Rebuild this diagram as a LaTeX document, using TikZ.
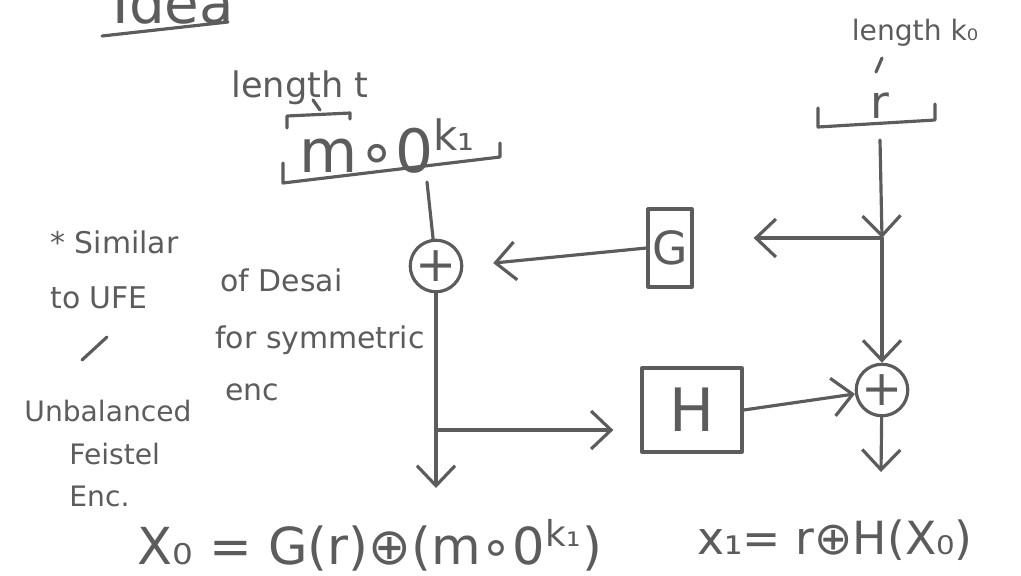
\documentclass[tikz,border=0pt]{standalone}
\usepackage{fontspec}
\setmainfont{DejaVu Sans}
\usetikzlibrary{arrows.meta}
\definecolor{pencil}{RGB}{92,92,92}
\begin{document}
\begin{tikzpicture}[x=0.01cm,y=-0.01cm,
  every node/.style={text=pencil,font=\fontsize{8.5}{10}\selectfont},
  ink/.style={draw=pencil,line width=0.9pt,line cap=round,line join=round},
  tip/.style={ink,-{Straight Barb[length=2mm,width=3.8mm]}},
  xorop/.style={ink,circle,minimum size=0.5cm,inner sep=0pt,font=\fontsize{14}{14}\selectfont},
  fbox/.style={ink,inner sep=0pt}]
\useasboundingbox (0,0) rectangle (1021,575);
\clip (0,0) rectangle (1021,575);
% heading, cut at the top edge
\node[anchor=west,font=\fontsize{16}{16}\selectfont] (idea) at (100,3) {Idea};
\draw[ink] (102,36) -- (228,22);
% message block m.0^k1
\node (lent) at (300,88) {\fontsize{10}{12}\selectfont length t};
\draw[ink] (313,100) -- (320,110);
\draw[ink] (287,128) -- (287,116) -- (350,113) -- (350,119);
\node (msg) at (388,146) {\fontsize{17}{17}\selectfont m∘0\textsuperscript{k₁}};
\draw[ink] (283,163) -- (283,183) -- (500,157) -- (500,143);
\coordinate (msgout) at (427,182);
% random block r
\node (lenk) at (915,33) {\fontsize{8}{10}\selectfont length k₀};
\draw[ink] (882,58) -- (876,72);
\node (rnd) at (880,106) {\fontsize{13}{13}\selectfont r};
\draw[ink] (818,108) -- (818,127) -- (935,120) -- (935,104);
\coordinate (rout) at (880,140);
\coordinate (rsplit) at (882,238);
% round functions and xors
\node[fbox,minimum width=0.44cm,minimum height=0.78cm,font=\fontsize{13}{13}\selectfont] (G) at (670,248) {G};
\node[fbox,minimum width=1.0cm,minimum height=0.84cm,font=\fontsize{17}{17}\selectfont] (H) at (692,410) {H};
\node[xorop] (xl) at (436,266) {+};
\node[xorop,minimum size=0.44cm] (xr) at (882,390) {+};
\coordinate (xlsplit) at (437,430);
\coordinate (xlout) at (436,488);
\coordinate (xrout) at (881,472);
% connectors
\draw[ink] (msgout) -- (xl);
\draw[tip] (rout) -- (rsplit);
\draw[tip,shorten >=0.6cm] (rsplit) -- (G.east |- rsplit);
\draw[tip,shorten >=0.3cm] (G.west) -- (xl.east);
\draw[tip] (rsplit) -- (xr);
\draw[tip] (xl) -- (xlout);
\draw[tip,shorten >=0.27cm] (xlsplit) -- (H.west |- xlsplit);
\draw[tip] (H.east) -- (xr);
\draw[tip] (xr) -- (xrout);
% outputs
\node (outl) at (370,545) {\fontsize{14.5}{16}\selectfont X₀ = G(r)⊕(m∘0\textsuperscript{k₁})};
\node (outr) at (835,540) {\fontsize{13}{15}\selectfont x₁= r⊕H(X₀)};
% side notes
\node[anchor=west] (sim) at (38,242) {* Similar};
\node[anchor=west] (ufe) at (38,298) {to UFE};
\node[anchor=west] (des) at (208,280) {of Desai};
\node[anchor=west] (sym) at (203,340) {for symmetric};
\node[anchor=west] (enc) at (213,392) {enc};
\draw[ink] (82,360) -- (107,337);
\node[anchor=north west,font=\fontsize{8}{10}\selectfont,align=left] (ufeb) at (12,388) {Unbalanced\\[2pt]\hspace*{1.6em}Feistel\\[2pt]\hspace*{1.6em}Enc.};
\end{tikzpicture}
\end{document}
